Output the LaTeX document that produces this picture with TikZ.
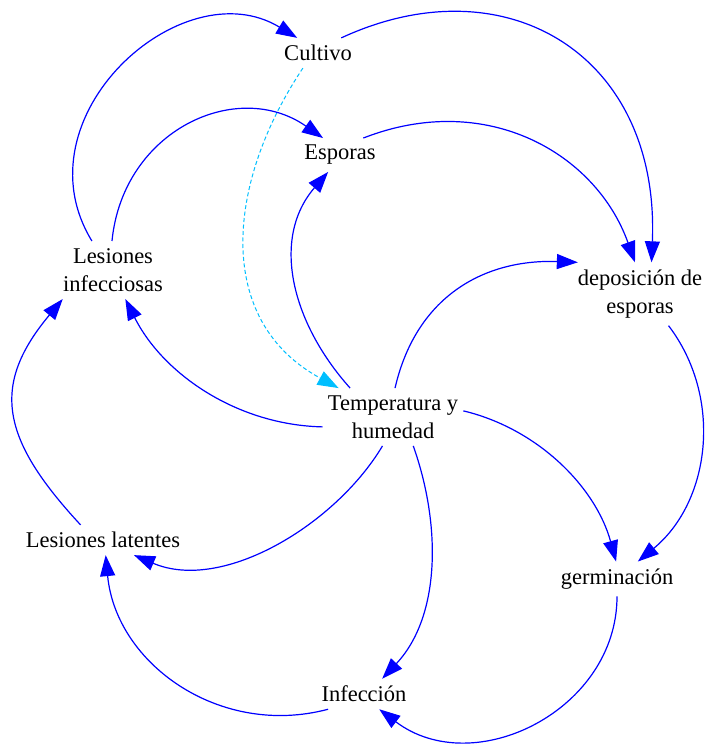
\documentclass[tikz,border=0pt]{standalone}
\usepackage{fontspec}
\setmainfont{Liberation Serif}
\usetikzlibrary{arrows.meta}
\definecolor{linkblue}{RGB}{0,0,255}
\definecolor{linkcyan}{RGB}{0,191,255}
\begin{document}
\begin{tikzpicture}[x=1pt,y=-1pt,
  var/.style={inner xsep=5pt, inner ysep=7pt, align=center,
    font=\fontsize{22.5}{28.5}\selectfont, text=black},
  link/.style={draw=linkblue, line width=1.2pt,
    -{Triangle[length=21pt,width=15pt]}},
  dlink/.style={draw=linkcyan, line width=1pt, dash pattern=on 4pt off 2.5pt,
    -{Triangle[length=21pt,width=15pt,fill=linkcyan]}}]
\path[use as bounding box] (0,0) rectangle (706,744);

% variables
\node[var] (cu) at (318,53)  {Cultivo};
\node[var] (es) at (340,155) {Esporas};
\node[var] (li) at (113,270) {Lesiones\\infecciosas};
\node[var] (de) at (640,294) {deposición de\\esporas};
\node[var] (th) at (393,417) {Temperatura y\\humedad};
\node[var] (ll) at (103,540) {Lesiones latentes};
\node[var] (ge) at (617,579) {germinación};
\node[var] (in) at (364,694) {Infección};

% causal links
\draw[link]  (li.126) .. controls (16,117) and (182,-32) .. (cu.144.5);
\draw[link]  (cu.33) .. controls (505,-38) and (660,54) .. (de.70);
\draw[dlink] (cu.225) .. controls (225,185) and (215,321) .. (th.152);
\draw[link]  (li.92) .. controls (123,130) and (237,78) .. (es.135);
\draw[link]  (es.36) .. controls (486,90) and (596,153) .. (de.99);
\draw[link]  (th.146) .. controls (291,322) and (271,238) .. (es.235);
\draw[link]  (th.188) .. controls (237,425) and (163,374) .. (li.293);
\draw[link]  (th.86) .. controls (417,293) and (488,259) .. (de.153);
\draw[link]  (th.5) .. controls (539,429) and (596,488) .. (ge.93);
\draw[link]  (th.250) .. controls (336,524) and (223,593) .. (ll.334);
\draw[link]  (th.305) .. controls (441,524) and (441,616) .. (in.40);
\draw[link]  (de.312) .. controls (723,397) and (711,501) .. (ge.40);
\draw[link]  (ge.270) .. controls (617,710) and (474,781) .. (in.315);
\draw[link]  (in.203.5) .. controls (220,738) and (116,664) .. (ll.280);
\draw[link]  (ll.146) .. controls (0,438) and (-9,385) .. (li.210);
\end{tikzpicture}
\end{document}
